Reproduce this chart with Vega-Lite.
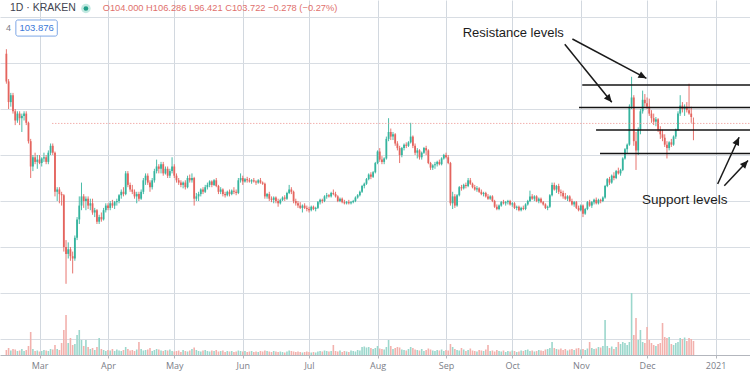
{
"$schema":"https://vega.github.io/schema/vega-lite/v6.json",
"width":750,"height":355,
"autosize":{"type":"none"},
"padding":{"left":0,"top":0,"right":0,"bottom":20},
"background":"white",
"config":{"view":{"stroke":null},"font":"Liberation Sans"},
"datasets":{
"k":[
{"t":"2020-02-15","o":134,"h":136,"l":121,"c":122,"v":50},
{"t":"2020-02-16","o":122,"h":123,"l":110,"c":113,"v":70},
{"t":"2020-02-17","o":113,"h":117,"l":111,"c":116,"v":45},
{"t":"2020-02-18","o":116,"h":117,"l":108,"c":109,"v":60},
{"t":"2020-02-19","o":109,"h":110,"l":103,"c":105,"v":55},
{"t":"2020-02-20","o":105,"h":109,"l":104,"c":108,"v":40},
{"t":"2020-02-21","o":108,"h":109,"l":103,"c":106,"v":45},
{"t":"2020-02-22","o":106,"h":108,"l":100,"c":107,"v":60},
{"t":"2020-02-23","o":107,"h":109,"l":105,"c":108,"v":40},
{"t":"2020-02-24","o":108,"h":109,"l":103,"c":104,"v":50},
{"t":"2020-02-25","o":104,"h":104.5,"l":95,"c":96,"v":90},
{"t":"2020-02-26","o":96,"h":97,"l":80,"c":85,"v":230},
{"t":"2020-02-27","o":85,"h":90,"l":83,"c":89,"v":60},
{"t":"2020-02-28","o":89,"h":91,"l":86,"c":87,"v":40},
{"t":"2020-02-29","o":87,"h":90,"l":84,"c":88,"v":45},
{"t":"2020-03-01","o":88,"h":90,"l":86,"c":86.5,"v":35},
{"t":"2020-03-02","o":86.5,"h":89,"l":85,"c":88.5,"v":40},
{"t":"2020-03-03","o":88.5,"h":91,"l":87,"c":89,"v":50},
{"t":"2020-03-04","o":89,"h":90,"l":86,"c":87,"v":45},
{"t":"2020-03-05","o":87,"h":92,"l":86,"c":91,"v":40},
{"t":"2020-03-06","o":91,"h":95,"l":90,"c":94,"v":60},
{"t":"2020-03-07","o":94,"h":95,"l":90,"c":91,"v":55},
{"t":"2020-03-08","o":91,"h":91.5,"l":72,"c":74,"v":100},
{"t":"2020-03-09","o":74,"h":76,"l":70,"c":75,"v":60},
{"t":"2020-03-10","o":75,"h":76,"l":69,"c":73,"v":50},
{"t":"2020-03-11","o":73,"h":74,"l":68,"c":72.5,"v":120},
{"t":"2020-03-12","o":72.5,"h":73,"l":48,"c":50,"v":250},
{"t":"2020-03-13","o":50,"h":53,"l":34,"c":47,"v":400},
{"t":"2020-03-14","o":47,"h":52,"l":45,"c":49,"v":120},
{"t":"2020-03-15","o":49,"h":50,"l":44,"c":46,"v":170},
{"t":"2020-03-16","o":46,"h":48,"l":38.5,"c":45,"v":100},
{"t":"2020-03-17","o":45,"h":55,"l":44,"c":54,"v":110},
{"t":"2020-03-18","o":54,"h":63,"l":53,"c":62,"v":200},
{"t":"2020-03-19","o":62,"h":72,"l":60,"c":68,"v":250},
{"t":"2020-03-20","o":68,"h":78,"l":66,"c":72,"v":150},
{"t":"2020-03-21","o":72,"h":73,"l":67,"c":70,"v":90},
{"t":"2020-03-22","o":70,"h":72,"l":66,"c":71,"v":150},
{"t":"2020-03-23","o":71,"h":72,"l":66.5,"c":68,"v":80},
{"t":"2020-03-24","o":68,"h":71,"l":66,"c":69,"v":60},
{"t":"2020-03-25","o":69,"h":71,"l":64,"c":65,"v":70},
{"t":"2020-03-26","o":65,"h":67,"l":63,"c":66,"v":50},
{"t":"2020-03-27","o":66,"h":66.5,"l":60,"c":61,"v":80},
{"t":"2020-03-28","o":61,"h":64,"l":60,"c":63,"v":170},
{"t":"2020-03-29","o":63,"h":65,"l":61,"c":62,"v":60},
{"t":"2020-03-30","o":62,"h":67,"l":61.5,"c":66,"v":50},
{"t":"2020-03-31","o":66,"h":69,"l":65,"c":68,"v":40},
{"t":"2020-04-01","o":68,"h":69,"l":66,"c":67,"v":50},
{"t":"2020-04-02","o":67,"h":70,"l":66,"c":69,"v":45},
{"t":"2020-04-03","o":69,"h":70.5,"l":67,"c":68,"v":60},
{"t":"2020-04-04","o":68,"h":70,"l":66.5,"c":69.5,"v":40},
{"t":"2020-04-05","o":69.5,"h":71,"l":68,"c":70,"v":55},
{"t":"2020-04-06","o":70,"h":73,"l":69,"c":72.5,"v":45},
{"t":"2020-04-07","o":72.5,"h":75,"l":71,"c":74,"v":40},
{"t":"2020-04-08","o":74,"h":76,"l":72,"c":73,"v":50},
{"t":"2020-04-09","o":73,"h":83,"l":72.5,"c":82,"v":80},
{"t":"2020-04-10","o":82,"h":83,"l":76,"c":77,"v":60},
{"t":"2020-04-11","o":77,"h":78,"l":74,"c":75,"v":45},
{"t":"2020-04-12","o":75,"h":77,"l":73,"c":74,"v":50},
{"t":"2020-04-13","o":74,"h":75,"l":71,"c":72,"v":40},
{"t":"2020-04-14","o":72,"h":74,"l":69,"c":73,"v":55},
{"t":"2020-04-15","o":73,"h":74,"l":70,"c":71,"v":130},
{"t":"2020-04-16","o":71,"h":75,"l":70.5,"c":74,"v":60},
{"t":"2020-04-17","o":74,"h":80,"l":73,"c":79,"v":45},
{"t":"2020-04-18","o":79,"h":82,"l":77,"c":81,"v":50},
{"t":"2020-04-19","o":81,"h":82,"l":77,"c":78,"v":55},
{"t":"2020-04-20","o":78,"h":79,"l":74,"c":76,"v":70},
{"t":"2020-04-21","o":76,"h":80,"l":75,"c":79,"v":40},
{"t":"2020-04-22","o":79,"h":84,"l":78,"c":83,"v":50},
{"t":"2020-04-23","o":83,"h":88,"l":82,"c":85,"v":60},
{"t":"2020-04-24","o":85,"h":86,"l":82,"c":84,"v":55},
{"t":"2020-04-25","o":84,"h":87,"l":82,"c":86,"v":45},
{"t":"2020-04-26","o":86,"h":87,"l":81,"c":82,"v":40},
{"t":"2020-04-27","o":82,"h":85,"l":81.5,"c":84,"v":50},
{"t":"2020-04-28","o":84,"h":85,"l":80,"c":81,"v":45},
{"t":"2020-04-29","o":81,"h":84,"l":80,"c":83,"v":55},
{"t":"2020-04-30","o":83,"h":89,"l":82,"c":85,"v":40},
{"t":"2020-05-01","o":85,"h":86,"l":80,"c":81,"v":35},
{"t":"2020-05-02","o":81,"h":82,"l":78,"c":79,"v":40},
{"t":"2020-05-03","o":79,"h":80,"l":77,"c":78,"v":45},
{"t":"2020-05-04","o":78,"h":79,"l":76,"c":77,"v":30},
{"t":"2020-05-05","o":77,"h":78.5,"l":75.5,"c":78,"v":50},
{"t":"2020-05-06","o":78,"h":79,"l":75,"c":76,"v":40},
{"t":"2020-05-07","o":76,"h":81,"l":75.5,"c":80,"v":35},
{"t":"2020-05-08","o":80,"h":81.5,"l":78,"c":79,"v":45},
{"t":"2020-05-09","o":79,"h":82,"l":78,"c":80,"v":60},
{"t":"2020-05-10","o":80,"h":80.5,"l":68,"c":71,"v":75},
{"t":"2020-05-11","o":71,"h":73.5,"l":70,"c":72,"v":50},
{"t":"2020-05-12","o":72,"h":74,"l":70,"c":73,"v":40},
{"t":"2020-05-13","o":73,"h":75.5,"l":72,"c":75,"v":35},
{"t":"2020-05-14","o":75,"h":76,"l":73,"c":74,"v":45},
{"t":"2020-05-15","o":74,"h":77,"l":73.5,"c":76,"v":50},
{"t":"2020-05-16","o":76,"h":78,"l":75,"c":77,"v":40},
{"t":"2020-05-17","o":77,"h":79,"l":76,"c":78.5,"v":35},
{"t":"2020-05-18","o":78.5,"h":79,"l":76,"c":77,"v":45},
{"t":"2020-05-19","o":77,"h":79.5,"l":76.5,"c":79,"v":40},
{"t":"2020-05-20","o":79,"h":80,"l":76,"c":76.5,"v":50},
{"t":"2020-05-21","o":76.5,"h":77,"l":73,"c":74,"v":35},
{"t":"2020-05-22","o":74,"h":76,"l":73,"c":75,"v":40},
{"t":"2020-05-23","o":75,"h":75.5,"l":72,"c":73,"v":45},
{"t":"2020-05-24","o":73,"h":74,"l":71.5,"c":72.5,"v":30},
{"t":"2020-05-25","o":72.5,"h":74.5,"l":72,"c":74,"v":40},
{"t":"2020-05-26","o":74,"h":75,"l":72,"c":73,"v":35},
{"t":"2020-05-27","o":73,"h":75,"l":72.5,"c":74.5,"v":40},
{"t":"2020-05-28","o":74.5,"h":76,"l":73,"c":74,"v":30},
{"t":"2020-05-29","o":74,"h":75,"l":72.5,"c":73.5,"v":35},
{"t":"2020-05-30","o":73.5,"h":80,"l":73,"c":79,"v":45},
{"t":"2020-05-31","o":79,"h":82,"l":78,"c":80,"v":40},
{"t":"2020-06-01","o":80,"h":81,"l":77,"c":78.5,"v":35},
{"t":"2020-06-02","o":78.5,"h":80,"l":78,"c":79.5,"v":40},
{"t":"2020-06-03","o":79.5,"h":80.5,"l":78,"c":79,"v":30},
{"t":"2020-06-04","o":79,"h":80,"l":78,"c":78.5,"v":35},
{"t":"2020-06-05","o":78.5,"h":79.5,"l":77.5,"c":79,"v":40},
{"t":"2020-06-06","o":79,"h":80,"l":78,"c":78.5,"v":30},
{"t":"2020-06-07","o":78.5,"h":79,"l":77,"c":78,"v":35},
{"t":"2020-06-08","o":78,"h":79.5,"l":77.5,"c":79,"v":30},
{"t":"2020-06-09","o":79,"h":80,"l":77.5,"c":78,"v":40},
{"t":"2020-06-10","o":78,"h":78.5,"l":77,"c":77.5,"v":35},
{"t":"2020-06-11","o":77.5,"h":78,"l":71,"c":72,"v":45},
{"t":"2020-06-12","o":72,"h":73.5,"l":71,"c":73,"v":40},
{"t":"2020-06-13","o":73,"h":74,"l":70,"c":71,"v":35},
{"t":"2020-06-14","o":71,"h":72,"l":69.5,"c":70.5,"v":30},
{"t":"2020-06-15","o":70.5,"h":72,"l":69,"c":71.5,"v":40},
{"t":"2020-06-16","o":71.5,"h":72,"l":69,"c":70,"v":35},
{"t":"2020-06-17","o":70,"h":71,"l":67.5,"c":69,"v":30},
{"t":"2020-06-18","o":69,"h":71,"l":68.5,"c":70.5,"v":35},
{"t":"2020-06-19","o":70.5,"h":72,"l":70,"c":71.5,"v":30},
{"t":"2020-06-20","o":71.5,"h":72.5,"l":70,"c":71,"v":25},
{"t":"2020-06-21","o":71,"h":74,"l":70.5,"c":73.5,"v":35},
{"t":"2020-06-22","o":73.5,"h":77,"l":73,"c":75,"v":45},
{"t":"2020-06-23","o":75,"h":76,"l":73,"c":74,"v":40},
{"t":"2020-06-24","o":74,"h":74.5,"l":69,"c":70,"v":35},
{"t":"2020-06-25","o":70,"h":71,"l":68,"c":69,"v":30},
{"t":"2020-06-26","o":69,"h":70,"l":67,"c":68,"v":35},
{"t":"2020-06-27","o":68,"h":69.5,"l":66.5,"c":67,"v":30},
{"t":"2020-06-28","o":67,"h":68.5,"l":65,"c":68,"v":25},
{"t":"2020-06-29","o":68,"h":69,"l":66.5,"c":67,"v":30},
{"t":"2020-06-30","o":67,"h":68,"l":65.5,"c":66.5,"v":35},
{"t":"2020-07-01","o":66.5,"h":67.5,"l":65,"c":66,"v":30},
{"t":"2020-07-02","o":66,"h":68,"l":65.5,"c":67.5,"v":25},
{"t":"2020-07-03","o":67.5,"h":68,"l":66,"c":66.5,"v":30},
{"t":"2020-07-04","o":66.5,"h":67.5,"l":65.5,"c":67,"v":25},
{"t":"2020-07-05","o":67,"h":70,"l":66.5,"c":69.5,"v":35},
{"t":"2020-07-06","o":69.5,"h":71,"l":68.5,"c":70.5,"v":40},
{"t":"2020-07-07","o":70.5,"h":71,"l":69,"c":70,"v":35},
{"t":"2020-07-08","o":70,"h":72.5,"l":69.5,"c":72,"v":45},
{"t":"2020-07-09","o":72,"h":73.5,"l":71,"c":72.5,"v":40},
{"t":"2020-07-10","o":72.5,"h":73,"l":71.5,"c":72,"v":35},
{"t":"2020-07-11","o":72,"h":74,"l":71.5,"c":73.5,"v":40},
{"t":"2020-07-12","o":73.5,"h":75,"l":72.5,"c":73,"v":100},
{"t":"2020-07-13","o":73,"h":74,"l":71.5,"c":72,"v":40},
{"t":"2020-07-14","o":72,"h":72.5,"l":69.5,"c":70,"v":35},
{"t":"2020-07-15","o":70,"h":71.5,"l":69.5,"c":71,"v":45},
{"t":"2020-07-16","o":71,"h":71.5,"l":69,"c":69.5,"v":30},
{"t":"2020-07-17","o":69.5,"h":70.5,"l":68.5,"c":69,"v":40},
{"t":"2020-07-18","o":69,"h":70,"l":68.5,"c":69.5,"v":35},
{"t":"2020-07-19","o":69.5,"h":70.5,"l":68.5,"c":69,"v":30},
{"t":"2020-07-20","o":69,"h":70,"l":68.5,"c":69.5,"v":45},
{"t":"2020-07-21","o":69.5,"h":70.5,"l":69,"c":70,"v":40},
{"t":"2020-07-22","o":70,"h":72,"l":69.5,"c":71.5,"v":35},
{"t":"2020-07-23","o":71.5,"h":73,"l":71,"c":72.5,"v":50},
{"t":"2020-07-24","o":72.5,"h":74.5,"l":72,"c":74,"v":45},
{"t":"2020-07-25","o":74,"h":77,"l":73.5,"c":76.5,"v":80},
{"t":"2020-07-26","o":76.5,"h":78,"l":75.5,"c":77.5,"v":85},
{"t":"2020-07-27","o":77.5,"h":80,"l":77,"c":79.5,"v":75},
{"t":"2020-07-28","o":79.5,"h":82,"l":79,"c":81.5,"v":80},
{"t":"2020-07-29","o":81.5,"h":82.5,"l":79.5,"c":80.5,"v":70},
{"t":"2020-07-30","o":80.5,"h":83,"l":80,"c":82.5,"v":60},
{"t":"2020-07-31","o":82.5,"h":87,"l":82,"c":86.5,"v":70},
{"t":"2020-08-01","o":86.5,"h":92,"l":86,"c":91.5,"v":90},
{"t":"2020-08-02","o":91.5,"h":93,"l":87,"c":88,"v":65},
{"t":"2020-08-03","o":88,"h":89.5,"l":86,"c":87,"v":60},
{"t":"2020-08-04","o":87,"h":89,"l":86,"c":88.5,"v":55},
{"t":"2020-08-05","o":88.5,"h":98,"l":88,"c":97,"v":80},
{"t":"2020-08-06","o":97,"h":106,"l":96,"c":100,"v":150},
{"t":"2020-08-07","o":100,"h":101.5,"l":96.5,"c":98,"v":90},
{"t":"2020-08-08","o":98,"h":100,"l":96.5,"c":99,"v":60},
{"t":"2020-08-09","o":99,"h":99.5,"l":94,"c":95,"v":70},
{"t":"2020-08-10","o":95,"h":96,"l":92,"c":93,"v":80},
{"t":"2020-08-11","o":93,"h":94,"l":86.5,"c":90,"v":75},
{"t":"2020-08-12","o":90,"h":93.5,"l":89,"c":93,"v":55},
{"t":"2020-08-13","o":93,"h":95,"l":92,"c":94.5,"v":50},
{"t":"2020-08-14","o":94.5,"h":95.5,"l":93,"c":94,"v":45},
{"t":"2020-08-15","o":94,"h":96,"l":93.5,"c":95.5,"v":60},
{"t":"2020-08-16","o":95.5,"h":104,"l":95,"c":98,"v":80},
{"t":"2020-08-17","o":98,"h":98.5,"l":93,"c":94,"v":70},
{"t":"2020-08-18","o":94,"h":95,"l":90,"c":91,"v":55},
{"t":"2020-08-19","o":91,"h":93,"l":88.5,"c":92,"v":50},
{"t":"2020-08-20","o":92,"h":92.5,"l":88,"c":89,"v":45},
{"t":"2020-08-21","o":89,"h":91.5,"l":88,"c":91,"v":60},
{"t":"2020-08-22","o":91,"h":93.5,"l":90.5,"c":93,"v":40},
{"t":"2020-08-23","o":93,"h":94,"l":90,"c":92,"v":50},
{"t":"2020-08-24","o":92,"h":92.5,"l":86,"c":86.5,"v":65},
{"t":"2020-08-25","o":86.5,"h":87,"l":83.5,"c":84.5,"v":55},
{"t":"2020-08-26","o":84.5,"h":86,"l":83.5,"c":85.5,"v":45},
{"t":"2020-08-27","o":85.5,"h":87,"l":84,"c":86,"v":40},
{"t":"2020-08-28","o":86,"h":87.5,"l":85,"c":87,"v":50},
{"t":"2020-08-29","o":87,"h":88,"l":85.5,"c":86,"v":45},
{"t":"2020-08-30","o":86,"h":89,"l":85.5,"c":88.5,"v":55},
{"t":"2020-08-31","o":88.5,"h":90.5,"l":88,"c":90,"v":40},
{"t":"2020-09-01","o":90,"h":91,"l":88.5,"c":89,"v":50},
{"t":"2020-09-02","o":89,"h":90,"l":86,"c":86.5,"v":45},
{"t":"2020-09-03","o":86.5,"h":87,"l":68,"c":69,"v":110},
{"t":"2020-09-04","o":69,"h":74,"l":66.5,"c":72,"v":80},
{"t":"2020-09-05","o":72,"h":73,"l":67,"c":68,"v":60},
{"t":"2020-09-06","o":68,"h":73,"l":67.5,"c":72.5,"v":50},
{"t":"2020-09-07","o":72.5,"h":76.5,"l":72,"c":76,"v":45},
{"t":"2020-09-08","o":76,"h":77,"l":74.5,"c":75.5,"v":70},
{"t":"2020-09-09","o":75.5,"h":77.5,"l":75,"c":77,"v":55},
{"t":"2020-09-10","o":77,"h":78,"l":75.5,"c":76.5,"v":40},
{"t":"2020-09-11","o":76.5,"h":80,"l":76,"c":79,"v":50},
{"t":"2020-09-12","o":79,"h":80,"l":77,"c":77.5,"v":65},
{"t":"2020-09-13","o":77.5,"h":78,"l":75.5,"c":76,"v":45},
{"t":"2020-09-14","o":76,"h":77,"l":74.5,"c":75,"v":40},
{"t":"2020-09-15","o":75,"h":76.5,"l":74,"c":75.5,"v":35},
{"t":"2020-09-16","o":75.5,"h":76,"l":73.5,"c":74,"v":50},
{"t":"2020-09-17","o":74,"h":75,"l":72.5,"c":73,"v":45},
{"t":"2020-09-18","o":73,"h":74,"l":72,"c":73.5,"v":40},
{"t":"2020-09-19","o":73.5,"h":74,"l":71.5,"c":72,"v":55},
{"t":"2020-09-20","o":72,"h":73,"l":70.5,"c":71,"v":100},
{"t":"2020-09-21","o":71,"h":72.5,"l":70.5,"c":72,"v":40},
{"t":"2020-09-22","o":72,"h":72.5,"l":69.5,"c":70,"v":45},
{"t":"2020-09-23","o":70,"h":70.5,"l":67,"c":67.5,"v":35},
{"t":"2020-09-24","o":67.5,"h":68.5,"l":66,"c":66.5,"v":50},
{"t":"2020-09-25","o":66.5,"h":68.5,"l":66,"c":68,"v":40},
{"t":"2020-09-26","o":68,"h":70,"l":67.5,"c":69.5,"v":35},
{"t":"2020-09-27","o":69.5,"h":70.5,"l":68.5,"c":69,"v":45},
{"t":"2020-09-28","o":69,"h":70,"l":68,"c":69.5,"v":30},
{"t":"2020-09-29","o":69.5,"h":70.5,"l":68.5,"c":70,"v":40},
{"t":"2020-09-30","o":70,"h":70.5,"l":68,"c":68.5,"v":35},
{"t":"2020-10-01","o":68.5,"h":69.5,"l":67.5,"c":69,"v":45},
{"t":"2020-10-02","o":69,"h":69.5,"l":66.5,"c":67,"v":40},
{"t":"2020-10-03","o":67,"h":68,"l":66,"c":67.5,"v":30},
{"t":"2020-10-04","o":67.5,"h":68,"l":65.5,"c":66,"v":35},
{"t":"2020-10-05","o":66,"h":67.5,"l":65.5,"c":67,"v":45},
{"t":"2020-10-06","o":67,"h":68,"l":66,"c":66.5,"v":40},
{"t":"2020-10-07","o":66.5,"h":69,"l":66,"c":68.5,"v":50},
{"t":"2020-10-08","o":68.5,"h":70.5,"l":68,"c":70,"v":55},
{"t":"2020-10-09","o":70,"h":74.5,"l":69.5,"c":72,"v":40},
{"t":"2020-10-10","o":72,"h":73,"l":70.5,"c":71,"v":45},
{"t":"2020-10-11","o":71,"h":72.5,"l":70,"c":72,"v":35},
{"t":"2020-10-12","o":72,"h":72.5,"l":69.5,"c":70,"v":40},
{"t":"2020-10-13","o":70,"h":71.5,"l":69,"c":71,"v":50},
{"t":"2020-10-14","o":71,"h":71.5,"l":69,"c":69.5,"v":45},
{"t":"2020-10-15","o":69.5,"h":70,"l":68,"c":68.5,"v":40},
{"t":"2020-10-16","o":68.5,"h":69,"l":66.5,"c":67,"v":55},
{"t":"2020-10-17","o":67,"h":68,"l":66,"c":67.5,"v":60},
{"t":"2020-10-18","o":67.5,"h":73,"l":67,"c":72.5,"v":70},
{"t":"2020-10-19","o":72.5,"h":78,"l":72,"c":77,"v":130},
{"t":"2020-10-20","o":77,"h":78,"l":74.5,"c":75,"v":70},
{"t":"2020-10-21","o":75,"h":77,"l":73.5,"c":76.5,"v":60},
{"t":"2020-10-22","o":76.5,"h":77.5,"l":73,"c":74,"v":55},
{"t":"2020-10-23","o":74,"h":75,"l":72,"c":73.5,"v":65},
{"t":"2020-10-24","o":73.5,"h":74.5,"l":71,"c":72,"v":50},
{"t":"2020-10-25","o":72,"h":73.5,"l":70.5,"c":71,"v":60},
{"t":"2020-10-26","o":71,"h":72.5,"l":70,"c":72,"v":45},
{"t":"2020-10-27","o":72,"h":72.5,"l":69.5,"c":70,"v":55},
{"t":"2020-10-28","o":70,"h":71,"l":68,"c":68.5,"v":60},
{"t":"2020-10-29","o":68.5,"h":70,"l":67.5,"c":69.5,"v":50},
{"t":"2020-10-30","o":69.5,"h":70,"l":66.5,"c":67,"v":65},
{"t":"2020-10-31","o":67,"h":68,"l":65.5,"c":66,"v":70},
{"t":"2020-11-01","o":66,"h":68.5,"l":65.5,"c":68,"v":55},
{"t":"2020-11-02","o":68,"h":68.5,"l":63,"c":64.5,"v":60},
{"t":"2020-11-03","o":64.5,"h":67,"l":64,"c":66.5,"v":50},
{"t":"2020-11-04","o":66.5,"h":70,"l":66,"c":69.5,"v":65},
{"t":"2020-11-05","o":69.5,"h":70.5,"l":67.5,"c":68,"v":130},
{"t":"2020-11-06","o":68,"h":70,"l":67,"c":69.5,"v":70},
{"t":"2020-11-07","o":69.5,"h":71,"l":68.5,"c":70.5,"v":60},
{"t":"2020-11-08","o":70.5,"h":71.5,"l":68.5,"c":69,"v":65},
{"t":"2020-11-09","o":69,"h":71,"l":68.5,"c":70.5,"v":80},
{"t":"2020-11-10","o":70.5,"h":71,"l":69,"c":70,"v":75},
{"t":"2020-11-11","o":70,"h":72,"l":69.5,"c":71.5,"v":90},
{"t":"2020-11-12","o":71.5,"h":77,"l":71,"c":76.5,"v":350},
{"t":"2020-11-13","o":76.5,"h":80,"l":76,"c":79.5,"v":90},
{"t":"2020-11-14","o":79.5,"h":80.5,"l":77,"c":78,"v":70},
{"t":"2020-11-15","o":78,"h":81.5,"l":77.5,"c":81,"v":85},
{"t":"2020-11-16","o":81,"h":82.5,"l":79,"c":80,"v":60},
{"t":"2020-11-17","o":80,"h":83.5,"l":79.5,"c":83,"v":80},
{"t":"2020-11-18","o":83,"h":84.5,"l":81.5,"c":82,"v":130},
{"t":"2020-11-19","o":82,"h":84,"l":81,"c":83.5,"v":110},
{"t":"2020-11-20","o":83.5,"h":89,"l":83,"c":88.5,"v":130},
{"t":"2020-11-21","o":88.5,"h":93,"l":88,"c":92.5,"v":120},
{"t":"2020-11-22","o":92.5,"h":95,"l":90.5,"c":94.5,"v":100},
{"t":"2020-11-23","o":94.5,"h":112,"l":94,"c":111,"v":130},
{"t":"2020-11-24","o":111,"h":124,"l":110,"c":115,"v":620},
{"t":"2020-11-25","o":115,"h":116,"l":94,"c":96,"v":200},
{"t":"2020-11-26","o":96,"h":100,"l":83.5,"c":92,"v":370},
{"t":"2020-11-27","o":92,"h":102,"l":90,"c":101,"v":150},
{"t":"2020-11-28","o":101,"h":110,"l":99,"c":109,"v":250},
{"t":"2020-11-29","o":109,"h":118,"l":108,"c":114,"v":130},
{"t":"2020-11-30","o":114,"h":116.5,"l":111,"c":112.5,"v":120},
{"t":"2020-12-01","o":112.5,"h":115,"l":110,"c":111,"v":280},
{"t":"2020-12-02","o":111,"h":114.5,"l":107,"c":108,"v":150},
{"t":"2020-12-03","o":108,"h":109.5,"l":104,"c":106,"v":120},
{"t":"2020-12-04","o":106,"h":108,"l":103,"c":104.5,"v":100},
{"t":"2020-12-05","o":104.5,"h":106.5,"l":102.5,"c":105.5,"v":90},
{"t":"2020-12-06","o":105.5,"h":106,"l":100,"c":101,"v":110},
{"t":"2020-12-07","o":101,"h":102.5,"l":97,"c":99,"v":120},
{"t":"2020-12-08","o":99,"h":101,"l":96,"c":97.5,"v":320},
{"t":"2020-12-09","o":97.5,"h":99,"l":93.5,"c":94.5,"v":180},
{"t":"2020-12-10","o":94.5,"h":96,"l":88.5,"c":93,"v":170},
{"t":"2020-12-11","o":93,"h":96,"l":92,"c":95.5,"v":180},
{"t":"2020-12-12","o":95.5,"h":97,"l":93.5,"c":94.5,"v":110},
{"t":"2020-12-13","o":94.5,"h":98.5,"l":94,"c":98,"v":100},
{"t":"2020-12-14","o":98,"h":101.5,"l":97,"c":101,"v":120},
{"t":"2020-12-15","o":101,"h":109,"l":100.5,"c":108,"v":130},
{"t":"2020-12-16","o":108,"h":116,"l":107,"c":111.5,"v":170},
{"t":"2020-12-17","o":111.5,"h":113,"l":108.5,"c":110,"v":160},
{"t":"2020-12-18","o":110,"h":112,"l":107,"c":111,"v":175},
{"t":"2020-12-19","o":111,"h":113,"l":108.5,"c":109.5,"v":140},
{"t":"2020-12-20","o":109.5,"h":121,"l":107.5,"c":108,"v":170},
{"t":"2020-12-21","o":108,"h":111,"l":104,"c":106.5,"v":160},
{"t":"2020-12-22","o":104,"h":106.286,"l":96.421,"c":103.722,"v":140}
]
},
"resolve":{"scale":{"y":"independent"}},
"layer":[
{
"data":{"name":"k"},
"mark":{"type":"bar","width":1.6},
"encoding":{
"x":{"field":"t","type":"temporal","title":null,"scale":{"type":"utc","domain":[{"year":2020,"month":2,"date":14,"hours":9,"utc":true},{"year":2021,"month":1,"date":14,"hours":8,"utc":true}]}},
"y":{"field":"v","type":"quantitative","title":null,"scale":{"domain":[0,3550],"nice":false,"zero":true},"axis":null},
"color":{"condition":{"test":"datum.c < datum.o","value":"#f2b1ad"},"value":"#9bd7cc"}
}
},
{
"layer":[
{
"data":{"name":"k"},
"mark":{"type":"rule","strokeWidth":0.9},
"encoding":{
"x":{"field":"t","type":"temporal","title":null,"scale":{"type":"utc","domain":[{"year":2020,"month":2,"date":14,"hours":9,"utc":true},{"year":2021,"month":1,"date":14,"hours":8,"utc":true}]},
"axis":{"title":null,"grid":true,"gridColor":"#d2d8df","gridWidth":1,"tickCount":{"interval":"month","step":1},"labelExpr":"utcmonth(datum.value) === 0 ? utcFormat(datum.value, '%Y') : utcFormat(datum.value, '%b')","labelFontSize":9,"labelColor":"#7b7e88","labelFont":"Open Sans","domainColor":"#b3b6bd","tickColor":"#b3b6bd","tickSize":3,"labelPadding":3,"labelFlush":false,"labelOverlap":false,"labelBound":false}},
"y":{"field":"l","type":"quantitative","title":null,"scale":{"domain":[3.04,157.39],"nice":false,"zero":false},
"axis":{"title":null,"grid":true,"gridColor":"#d8dde3","labels":false,"ticks":false,"domain":false,"values":[10,20,30,40,50,60,70,80,90,100,110,120,130,140,150]}},
"y2":{"field":"h"},
"color":{"condition":{"test":"datum.c < datum.o","value":"#e4645e"},"value":"#35b49e"}
}
},
{
"data":{"name":"k"},
"mark":{"type":"bar","width":1.8},
"encoding":{
"x":{"field":"t","type":"temporal","title":null,"scale":{"type":"utc","domain":[{"year":2020,"month":2,"date":14,"hours":9,"utc":true},{"year":2021,"month":1,"date":14,"hours":8,"utc":true}]}},
"y":{"field":"o","type":"quantitative","title":null,"scale":{"domain":[3.04,157.39],"nice":false,"zero":false}},
"y2":{"field":"c"},
"color":{"condition":{"test":"datum.c < datum.o","value":"#e4645e"},"value":"#35b49e"}
}
},
{
"data":{"values":[{"t1":"2020-03-06T19:00:00Z","t2":"2021-01-20T00:00:00Z","p":103.722}]},
"mark":{"type":"rule","strokeDash":[1,2],"color":"#ec8c88","strokeWidth":1,"clip":true},
"encoding":{
"x":{"field":"t1","type":"temporal","title":null,"scale":{"type":"utc","domain":[{"year":2020,"month":2,"date":14,"hours":9,"utc":true},{"year":2021,"month":1,"date":14,"hours":8,"utc":true}]}},
"x2":{"field":"t2"},
"y":{"field":"p","type":"quantitative","title":null,"scale":{"domain":[3.04,157.39],"nice":false,"zero":false}}
}
},
{
"data":{"values":[
{"t1":"2020-11-01T16:00:00Z","t2":"2021-01-20T00:00:00Z","p":120.43},
{"t1":"2020-10-31T05:00:00Z","t2":"2021-01-20T00:00:00Z","p":110.65},
{"t1":"2020-11-07T22:00:00Z","t2":"2021-01-20T00:00:00Z","p":100.87},
{"t1":"2020-11-09T17:00:00Z","t2":"2021-01-20T00:00:00Z","p":90.65}
]},
"mark":{"type":"rule","color":"#141414","strokeWidth":1.6,"clip":true},
"encoding":{
"x":{"field":"t1","type":"temporal","title":null,"scale":{"type":"utc","domain":[{"year":2020,"month":2,"date":14,"hours":9,"utc":true},{"year":2021,"month":1,"date":14,"hours":8,"utc":true}]}},
"x2":{"field":"t2"},
"y":{"field":"p","type":"quantitative","title":null,"scale":{"domain":[3.04,157.39],"nice":false,"zero":false}}
}
},
{
"data":{"values":[
{"t1":"2020-10-28T05:00:00Z","p1":140.43,"t2":"2020-11-30T17:00:00Z","p2":123.35},
{"t1":"2020-10-24T18:00:00Z","p1":138.13,"t2":"2020-11-15T01:00:00Z","p2":112.91},
{"t1":"2021-01-01T23:00:00Z","p1":77.39,"t2":"2021-01-11T16:00:00Z","p2":97.70},
{"t1":"2021-01-04T23:00:00Z","p1":76.65,"t2":"2021-01-15T17:00:00Z","p2":87.6}
]},
"mark":{"type":"rule","color":"#1a1a1a","strokeWidth":1.5,"clip":true},
"encoding":{
"x":{"field":"t1","type":"temporal","title":null,"scale":{"type":"utc","domain":[{"year":2020,"month":2,"date":14,"hours":9,"utc":true},{"year":2021,"month":1,"date":14,"hours":8,"utc":true}]}},
"x2":{"field":"t2"},
"y":{"field":"p1","type":"quantitative","title":null,"scale":{"domain":[3.04,157.39],"nice":false,"zero":false}},
"y2":{"field":"p2"}
}
},
{
"data":{"values":[
{"t2":"2020-11-30T17:00:00Z","p2":123.35,"a":117.6},
{"t2":"2020-11-15T01:00:00Z","p2":112.91,"a":140.6},
{"t2":"2021-01-11T16:00:00Z","p2":97.70,"a":24.9},
{"t2":"2021-01-15T17:00:00Z","p2":87.6,"a":43.2}
]},
"mark":{"type":"point","shape":"M0,0L0.45,1L-0.45,1Z","filled":true,"size":256,"color":"#1a1a1a","opacity":1,"clip":true},
"encoding":{
"x":{"field":"t2","type":"temporal","title":null,"scale":{"type":"utc","domain":[{"year":2020,"month":2,"date":14,"hours":9,"utc":true},{"year":2021,"month":1,"date":14,"hours":8,"utc":true}]}},
"y":{"field":"p2","type":"quantitative","title":null,"scale":{"domain":[3.04,157.39],"nice":false,"zero":false}},
"angle":{"field":"a","type":"quantitative","scale":null}
}
},
{
"data":{"values":[{"t1":"2020-02-19T07:00:00Z","t2":"2020-03-09T01:00:00Z","p1":148.7,"p2":141.7}]},
"mark":{"type":"rect","fill":"white","stroke":"#7ea7e6","strokeWidth":1,"cornerRadius":2},
"encoding":{
"x":{"field":"t1","type":"temporal","title":null,"scale":{"type":"utc","domain":[{"year":2020,"month":2,"date":14,"hours":9,"utc":true},{"year":2021,"month":1,"date":14,"hours":8,"utc":true}]}},
"x2":{"field":"t2"},
"y":{"field":"p1","type":"quantitative","title":null,"scale":{"domain":[3.04,157.39],"nice":false,"zero":false}},
"y2":{"field":"p2"}
}
},
{
"data":{"values":[
{"t":"2020-02-16T14:00:00Z","p":153.7,"txt":"1D · KRAKEN","fs":10.5,"col":"#3f4350"},
{"t":"2020-03-29T14:00:00Z","p":153.7,"txt":"O104.000 H106.286 L96.421 C103.722 −0.278 (−0.27%)","fs":9.3,"col":"#e0706c"},
{"t":"2020-02-14T20:00:00Z","p":145.2,"txt":"4","fs":9,"col":"#7b7e88"}
]},
"mark":{"type":"text","align":"left","baseline":"middle"},
"encoding":{
"x":{"field":"t","type":"temporal","title":null,"scale":{"type":"utc","domain":[{"year":2020,"month":2,"date":14,"hours":9,"utc":true},{"year":2021,"month":1,"date":14,"hours":8,"utc":true}]}},
"y":{"field":"p","type":"quantitative","title":null,"scale":{"domain":[3.04,157.39],"nice":false,"zero":false}},
"text":{"field":"txt"},
"size":{"field":"fs","type":"quantitative","scale":null},
"color":{"field":"col","type":"nominal","scale":null}
}
},
{
"data":{"values":[
{"t":"2020-02-28T16:00:00Z","p":145.2,"txt":"103.876","fs":9.5,"col":"#3b78d8"},
{"t":"2020-10-01T10:00:00Z","p":143.0,"txt":"Resistance levels","fs":13,"col":"#1c1c1c"},
{"t":"2020-12-18T02:00:00Z","p":70.4,"txt":"Support levels","fs":13.5,"col":"#1c1c1c"}
]},
"mark":{"type":"text","align":"center","baseline":"middle"},
"encoding":{
"x":{"field":"t","type":"temporal","title":null,"scale":{"type":"utc","domain":[{"year":2020,"month":2,"date":14,"hours":9,"utc":true},{"year":2021,"month":1,"date":14,"hours":8,"utc":true}]}},
"y":{"field":"p","type":"quantitative","title":null,"scale":{"domain":[3.04,157.39],"nice":false,"zero":false}},
"text":{"field":"txt"},
"size":{"field":"fs","type":"quantitative","scale":null},
"color":{"field":"col","type":"nominal","scale":null}
}
},
{
"data":{"values":[
{"t":"2020-03-22T00:00:00Z","p":153.7,"s":90,"col":"#c2e9e1"},
{"t":"2020-03-22T00:00:00Z","p":153.7,"s":22,"col":"#1f9e87"}
]},
"mark":{"type":"circle","opacity":1},
"encoding":{
"x":{"field":"t","type":"temporal","title":null,"scale":{"type":"utc","domain":[{"year":2020,"month":2,"date":14,"hours":9,"utc":true},{"year":2021,"month":1,"date":14,"hours":8,"utc":true}]}},
"y":{"field":"p","type":"quantitative","title":null,"scale":{"domain":[3.04,157.39],"nice":false,"zero":false}},
"size":{"field":"s","type":"quantitative","scale":null},
"color":{"field":"col","type":"nominal","scale":null}
}
}
]
}
]
}
